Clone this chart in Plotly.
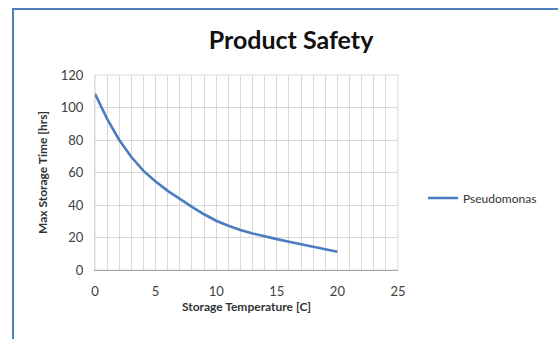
import plotly.graph_objects as go

temps = [0, 1, 2, 3, 4, 5, 6, 7, 8, 9, 10, 11, 12, 13, 14, 15, 16, 17, 18, 19, 20]
pseudomonas = [108.5, 93, 80, 69.5, 61, 54.5, 48.7, 43.5, 38.8, 34.3, 30.3, 27.2, 24.6, 22.5,
               20.6, 19, 17.4, 15.9, 14.4, 12.8, 11.2]
series_name = "Pseudomonas"
title_text = "Product Safety"
x_title = "Storage Temperature [C]"
y_title = "Max Storage Time [hrs]"

W, H = 558, 339
L, R, T, B = 95, 398, 75, 270

fig = go.Figure()
fig.add_trace(go.Scatter(x=temps, y=pseudomonas, mode="lines", name=series_name,
                         line=dict(color="#4a7dbf", width=2.6)))

font = "Lato, 'Open Sans', sans-serif"
grid = "#d9d9d9"
fig.update_layout(
    width=W, height=H,
    margin=dict(l=L, r=W - R, t=T, b=H - B),
    paper_bgcolor="white", plot_bgcolor="white",
    font=dict(family=font, color="#404040", size=12),
    title=dict(text="<b>" + title_text + "</b>", x=291 / W, xanchor="center",
               y=1 - 40 / H, yanchor="middle", font=dict(size=25, color="#111111")),
    showlegend=True,
    legend=dict(x=(423 - L) / (R - L), y=(B - 198) / (B - T), xanchor="left", yanchor="middle",
                font=dict(size=12, color="#333333"), bgcolor="rgba(0,0,0,0)", itemwidth=30),
    xaxis=dict(range=[0, 25], dtick=5, tick0=0, showgrid=True, gridcolor=grid, gridwidth=1,
               minor=dict(dtick=1, showgrid=True, gridcolor=grid, gridwidth=1),
               showline=True, linecolor="#a6a6a6", linewidth=1, zeroline=False,
               ticks="", ticklabelstandoff=9, tickfont=dict(size=13, color="#404040"),
               title=dict(text="<b>" + x_title + "</b>", font=dict(size=12, color="#333333"), standoff=4),
               fixedrange=True),
    yaxis=dict(range=[0, 120], dtick=20, showgrid=True, gridcolor=grid, gridwidth=1,
               showline=True, linecolor=grid, linewidth=1, zeroline=False,
               ticks="", ticklabelstandoff=8, tickfont=dict(size=13, color="#404040"),
               title=dict(text="<b>" + y_title + "</b>", font=dict(size=12, color="#333333"), standoff=10),
               fixedrange=True),
)

# plot-area outline (top and right gridlines)
fig.add_shape(type="rect", xref="paper", yref="paper", x0=0, x1=1, y0=0, y1=1,
              line=dict(color=grid, width=1), fillcolor="rgba(0,0,0,0)", layer="below")

# blue chart frame (Excel-style border), partially cropped at right/bottom
pw, ph = R - L, B - T
fig.add_shape(type="rect", xref="paper", yref="paper",
              x0=(13 - L) / pw, x1=(562 - L) / pw,
              y0=(B - 345) / ph, y1=(B - 9) / ph,
              line=dict(color="#4f81bd", width=2), fillcolor="rgba(0,0,0,0)", layer="above")

fig.write_html("out.html")
